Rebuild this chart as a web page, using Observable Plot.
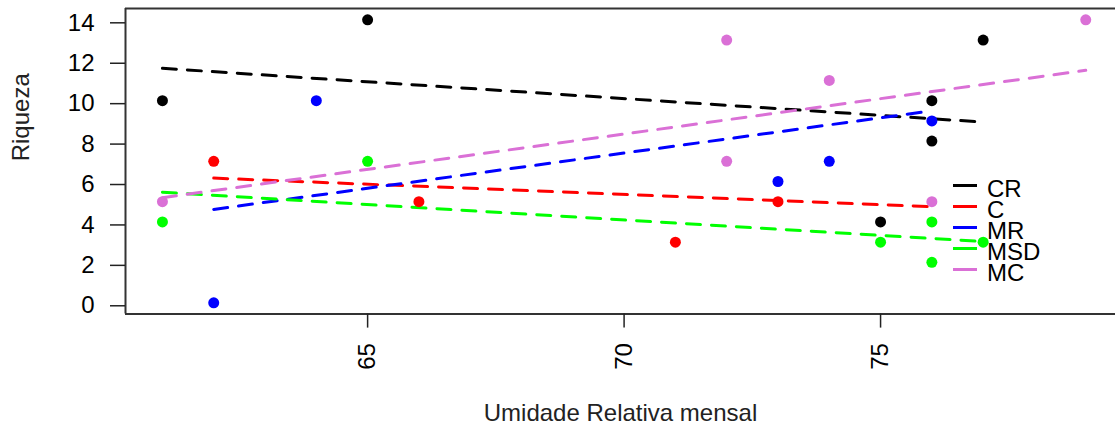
<!DOCTYPE html>
<html><head><meta charset="utf-8">
<script src="https://cdn.jsdelivr.net/npm/d3@7"></script>
<script src="https://cdn.jsdelivr.net/npm/@observablehq/plot@0.6"></script>
<style>
html,body{margin:0;padding:0;background:#fff;overflow:hidden;}
#wrap{position:relative;width:1115px;height:432px;font-family:"Liberation Sans",Arial,sans-serif;}
#legend{position:absolute;left:953px;top:174.5px;}
.row{display:flex;align-items:center;height:21px;}
.sw{width:24px;height:3px;margin-right:10px;}
.lab{font-size:24px;line-height:21px;position:relative;top:3px;color:#000;}
</style></head><body><div id="wrap"><div id="legend"></div></div>
<script>
// Series
const seriesNames = ["CR", "C", "MR", "MSD", "MC"];
const seriesColors = ["#000000", "#ff0000", "#0000ff", "#00ff00", "#da70d6"];

// Points (Umidade Relativa mensal, Riqueza)
const crX  = [61, 65, 75, 76, 76, 77];
const crY  = [10, 14, 4, 10, 8, 13];
const cX   = [62, 66, 71, 73];
const cY   = [7, 5, 3, 5];
const mrX  = [62, 64, 73, 74, 76];
const mrY  = [0, 10, 6, 7, 9];
const msdX = [61, 65, 75, 76, 76, 77];
const msdY = [4, 7, 3, 4, 2, 3];
const mcX  = [61, 72, 72, 74, 76, 79];
const mcY  = [5, 13, 7, 11, 5, 14];

// Fitted (dashed) lines: endpoints
const lineX0 = [61, 62, 62, 61, 61];
const lineY0 = [11.6, 6.17, 4.62, 5.47, 5.2];
const lineX1 = [77, 76, 76, 77, 79];
const lineY1 = [8.94, 4.75, 9.5, 3.03, 11.5];

// Axes
const xTicks = [65, 70, 75];
const yTicks = [0, 2, 4, 6, 8, 10, 12, 14];
const xDomain = [60.28, 79.58];
const yDomain = [-0.56, 14.56];
const xTitle = "Umidade Relativa mensal";
const yTitle = "Riqueza";

const seriesX = [crX, cX, mrX, msdX, mcX];
const seriesY = [crY, cY, mrY, msdY, mcY];
const points = [];
seriesNames.forEach((s, i) => seriesX[i].forEach((x, j) => points.push({series: s, x, y: seriesY[i][j]})));
const lines = [];
seriesNames.forEach((s, i) => {
  lines.push({series: s, x: lineX0[i], y: lineY0[i]});
  lines.push({series: s, x: lineX1[i], y: lineY1[i]});
});

const chart = Plot.plot({
  width: 1115,
  height: 432,
  marginLeft: 125,
  marginRight: 0,
  marginTop: 8,
  marginBottom: 118.4,
  style: {fontFamily: "Liberation Sans, Arial, sans-serif", fontSize: "24px", color: "#000", background: "#fff"},
  x: {domain: xDomain},
  y: {domain: yDomain},
  color: {domain: seriesNames, range: seriesColors},
  marks: [
    Plot.line(lines, {x: "x", y: "y", z: "series", stroke: "series", strokeWidth: 3, strokeDasharray: "14,11"}),
    Plot.dot(points, {x: "x", y: "y", fill: "series", r: 5.5}),
    Plot.ruleX([xDomain[0]], {stroke: "#333", strokeWidth: 2}),
    Plot.ruleY([yDomain[0], yDomain[1]], {stroke: "#333", strokeWidth: 2}),
    Plot.axisY(yTicks, {tickSize: 15, tickPadding: 16, fontSize: 24, dy: 3, strokeWidth: 1.5, stroke: "#222", label: null}),
    Plot.axisX(xTicks, {tickSize: 14, tickPadding: 15, tickRotate: -90, fontSize: 24, strokeWidth: 1.5, stroke: "#222", label: null}),
    Plot.text([xTitle], {frameAnchor: "bottom", dy: 107, fontSize: 24, fill: "#222"}),
    Plot.text([yTitle], {frameAnchor: "left", dx: -104, rotate: -90, fontSize: 24, fill: "#222"})
  ]
});
document.getElementById("wrap").prepend(chart);

const legend = document.getElementById("legend");
seriesNames.forEach((s, i) => {
  const row = document.createElement("div");
  row.className = "row";
  const sw = document.createElement("div");
  sw.className = "sw";
  sw.style.background = seriesColors[i];
  const lab = document.createElement("span");
  lab.className = "lab";
  lab.textContent = s;
  row.appendChild(sw);
  row.appendChild(lab);
  legend.appendChild(row);
});
</script></body></html>
